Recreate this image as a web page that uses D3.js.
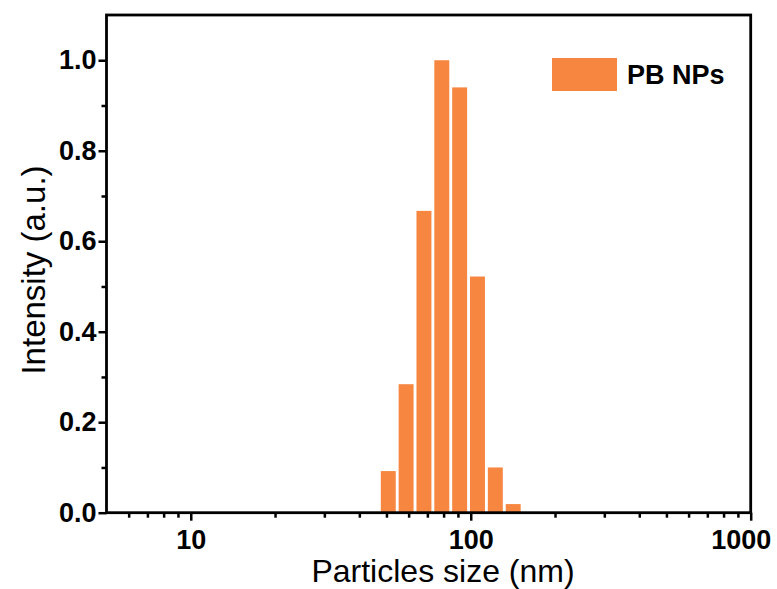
<!DOCTYPE html>
<html>
<head>
<meta charset="utf-8">
<script src="https://cdn.jsdelivr.net/npm/d3@7"></script>
<style>
  body { margin: 0; background: #fff; }
  text { font-family: "Liberation Sans", Arial, sans-serif; }
</style>
</head>
<body>
<div id="chart"></div>
<script>
// dados (bins do DLS, em nm)
const sizes = [50.75, 58.77, 68.06, 78.82, 91.28, 105.7, 122.4, 141.8];
const intensity = [0.092, 0.284, 0.667, 1.0, 0.94, 0.522, 0.1, 0.019];
const xMajorTicks = [10, 100, 1000];
const xMinorTicks = [6, 7, 8, 9, 20, 30, 40, 50, 60, 70, 80, 90, 200, 300, 400, 500, 600, 700, 800, 900];
const yMajorTicks = [0, 0.2, 0.4, 0.6, 0.8, 1.0];
const yMinorTicks = [0.1, 0.3, 0.5, 0.7, 0.9];
const seriesName = "PB NPs";

const width = 777;
const height = 589;
const margin = { top: 15, right: 26.3, bottom: 76.3, left: 106.5 };
const graphWidth = width - margin.left - margin.right;
const graphHeight = height - margin.top - margin.bottom;
const barColor = "#F68640";

const data = sizes.map((s, i) => ({ size: s, value: intensity[i] }));

// Escalas
const x = d3.scaleLog().domain([5, 1000]).range([0, graphWidth]);
const y = d3.scaleLinear().domain([0, 1.1]).range([graphHeight, 0]);

const svg = d3
  .select("#chart")
  .append("svg")
  .attr("width", width)
  .attr("height", height)
  .append("g")
  .attr("transform", `translate(${margin.left}, ${margin.top})`);

// Barras (bordas na média geométrica entre bins vizinhos)
const ratio = sizes[1] / sizes[0];
const half = Math.sqrt(ratio);
const gap = 1.45;
svg
  .selectAll(".bar")
  .data(data)
  .enter()
  .append("rect")
  .attr("class", "bar")
  .attr("x", (d) => x(d.size / half) + gap)
  .attr("y", (d) => y(d.value))
  .attr("width", (d) => x(d.size * half) - x(d.size / half) - 2 * gap)
  .attr("height", (d) => graphHeight - y(d.value))
  .style("fill", barColor);

// Eixo X
const xAxis = svg
  .append("g")
  .attr("transform", `translate(0,${graphHeight})`)
  .call(
    d3.axisBottom(x).tickValues(xMajorTicks).tickFormat(d3.format("d"))
      .tickSize(8).tickSizeOuter(0).tickPadding(9)
  );
svg
  .append("g")
  .attr("transform", `translate(0,${graphHeight})`)
  .call(d3.axisBottom(x).tickValues(xMinorTicks).tickFormat("").tickSize(5).tickSizeOuter(0));

// Eixo Y
svg
  .append("g")
  .call(
    d3.axisLeft(y).tickValues(yMajorTicks).tickFormat(d3.format(".1f"))
      .tickSize(8).tickSizeOuter(0).tickPadding(2)
  );
svg
  .append("g")
  .call(d3.axisLeft(y).tickValues(yMinorTicks).tickFormat("").tickSize(5).tickSizeOuter(0));

svg.selectAll(".domain").remove();
svg.selectAll(".tick line").style("stroke", "#000").style("stroke-width", 2.5);
svg
  .selectAll(".tick text")
  .style("font-size", "27px")
  .style("font-weight", "bold")
  .style("fill", "#000");
// "1000" um pouco para dentro, como no original
xAxis.selectAll(".tick text").filter((d) => d === 1000).attr("dx", -10);

// Moldura
svg
  .append("rect")
  .attr("width", graphWidth)
  .attr("height", graphHeight)
  .style("fill", "none")
  .style("stroke", "#000")
  .style("stroke-width", 2.8);

// Títulos dos eixos
svg
  .append("text")
  .attr("x", 443 - margin.left)
  .attr("y", 582 - margin.top)
  .attr("text-anchor", "middle")
  .style("font-size", "32px")
  .text("Particles size (nm)");

svg
  .append("text")
  .attr("transform", `translate(${45 - margin.left}, ${270 - margin.top}) rotate(-90)`)
  .attr("text-anchor", "middle")
  .style("font-size", "33px")
  .text("Intensity (a.u.)");

// Legenda
const legend = svg.append("g").attr("transform", `translate(${552 - margin.left}, ${58 - margin.top})`);
legend.append("rect").attr("width", 65).attr("height", 33).style("fill", barColor);
legend
  .append("text")
  .attr("x", 75)
  .attr("y", 26)
  .style("font-size", "27px")
  .style("font-weight", "bold")
  .text(seriesName);
</script>
</body>
</html>
